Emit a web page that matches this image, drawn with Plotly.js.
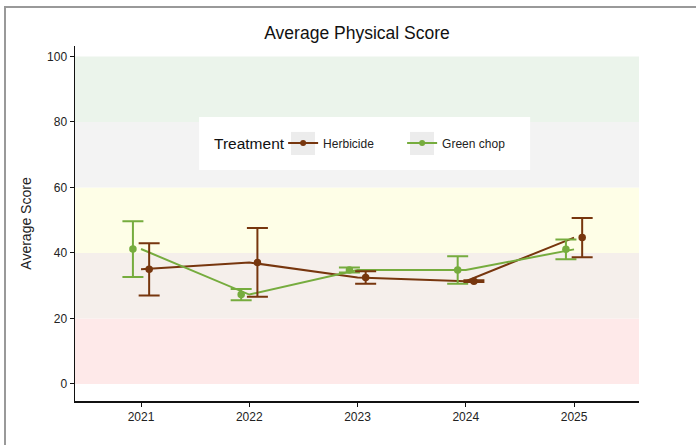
<!DOCTYPE html>
<html>
<head>
<meta charset="utf-8">
<script src="https://cdn.plot.ly/plotly-3.0.1.min.js"></script>
<style>
html,body{margin:0;padding:0;background:#fff;overflow:hidden;}
#wrap{position:relative;width:696px;height:445px;overflow:hidden;}
#frame{position:absolute;left:4px;top:6px;width:900px;height:700px;border-left:2px solid #999;border-top:2px solid #999;pointer-events:none;z-index:5;}
#chart{position:absolute;left:0;top:0;width:696px;height:445px;}
</style>
</head>
<body>
<div id="wrap"><div id="chart"></div><div id="frame"></div></div>
<script>
// ---- data ----
var years = [2021, 2022, 2023, 2024, 2025];
var herbicideMean = [35.0, 37.1, 32.5, 31.4, 44.7];
var herbicideErr  = [8.0, 10.5, 1.9, 0.3, 6.0];
var greenMean = [41.2, 27.3, 34.8, 34.8, 41.1];
var greenErr  = [8.5, 1.7, 0.8, 4.2, 3.0];
var tickLabels = ['2021', '2022', '2023', '2024', '2025'];
var bandEdges = [0, 20, 40, 60, 80, 100];
var bandColors = ['#fee9e9', '#f5efeb', '#fefee7', '#f3f3f3', '#ebf4eb'];

var brown = '#77360e';
var green = '#76ac3e';
var dodge = 0.075;

function shift(arr, d){ return arr.map(function(v){ return v + d; }); }

var traces = [
  // connecting lines at category centres
  {x: years, y: herbicideMean, mode: 'lines', line: {color: brown, width: 2}, showlegend: false, hoverinfo: 'skip'},
  {x: years, y: greenMean, mode: 'lines', line: {color: green, width: 2}, showlegend: false, hoverinfo: 'skip'},
  // dodged points with error bars
  {x: shift(years, -dodge), y: greenMean, mode: 'markers', marker: {color: green, size: 7.5},
   error_y: {type: 'data', array: greenErr, color: green, thickness: 2, width: 10.5}, showlegend: false},
  {x: shift(years, dodge), y: herbicideMean, mode: 'markers', marker: {color: brown, size: 7.5},
   error_y: {type: 'data', array: herbicideErr, color: brown, thickness: 2, width: 10.5}, showlegend: false},
  // legend entries
  {x: [null], y: [null], mode: 'lines+markers', name: 'Herbicide', line: {color: brown, width: 2}, marker: {color: brown, size: 6}},
  {x: [null], y: [null], mode: 'lines+markers', name: 'Green chop', line: {color: green, width: 2}, marker: {color: green, size: 6}}
];

var shapes = [];
for (var i = 0; i < bandColors.length; i++) {
  shapes.push({type: 'rect', xref: 'paper', yref: 'y', x0: 0, x1: 1, y0: bandEdges[i], y1: bandEdges[i+1],
    fillcolor: bandColors[i], line: {width: 0}, layer: 'below'});
}
// legend background and key boxes
shapes.push({type: 'rect', xref: 'paper', yref: 'paper', x0: 0.22, x1: 0.807, y0: 0.651, y1: 0.80,
  fillcolor: '#ffffff', line: {width: 0}, layer: 'below'});
shapes.push({type: 'rect', xref: 'paper', yref: 'paper', x0: 0.383, x1: 0.4255, y0: 0.693, y1: 0.758,
  fillcolor: '#ececec', line: {width: 0}, layer: 'below'});
shapes.push({type: 'rect', xref: 'paper', yref: 'paper', x0: 0.594, x1: 0.6365, y0: 0.693, y1: 0.758,
  fillcolor: '#ececec', line: {width: 0}, layer: 'below'});

var layout = {
  width: 696, height: 445,
  margin: {l: 75, r: 57, t: 46, b: 44},
  paper_bgcolor: 'rgba(0,0,0,0)', plot_bgcolor: '#ffffff',
  font: {family: 'Liberation Sans, Arial, sans-serif', color: '#222', size: 12},
  title: {text: 'Average Physical Score', x: 0.5, xref: 'paper', y: 0.941, yref: 'container',
    font: {size: 17.5, color: '#111'}},
  xaxis: {range: [2020.39, 2025.6], tickvals: years, ticktext: tickLabels, showgrid: false, zeroline: false,
    showline: true, linecolor: '#111', linewidth: 1.5, ticks: 'outside', ticklen: 4, tickcolor: '#111',
    tickfont: {size: 12}},
  yaxis: {range: [-5.2, 103.2], tickvals: [0, 20, 40, 60, 80, 100], showgrid: false, zeroline: false,
    showline: true, linecolor: '#111', linewidth: 1.5, ticks: 'outside', ticklen: 4, tickcolor: '#111',
    tickfont: {size: 12},
    title: {text: 'Average Score', font: {size: 14}, standoff: 12}},
  legend: {orientation: 'h', x: 0.369, xanchor: 'left', y: 0.727, yanchor: 'middle',
    bgcolor: 'rgba(0,0,0,0)', borderwidth: 0, font: {size: 12},
    entrywidth: 74, entrywidthmode: 'pixels'},
  annotations: [{text: 'Treatment', xref: 'paper', yref: 'paper', x: (212 - 75) / 564, y: 0.7255,
    xanchor: 'left', yanchor: 'middle', showarrow: false, font: {size: 15.5, color: '#111'}}],
  shapes: shapes,
  showlegend: true
};

Plotly.newPlot('chart', traces, layout, {displayModeBar: false, staticPlot: true});
</script>
</body>
</html>
